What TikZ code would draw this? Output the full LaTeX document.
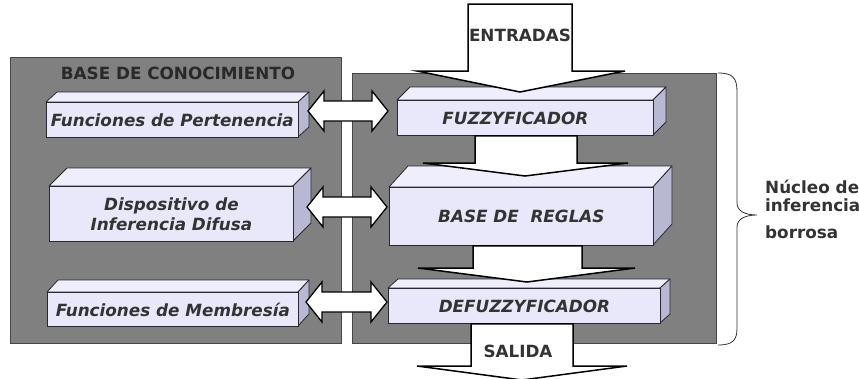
\documentclass[tikz,border=0pt]{standalone}
\usepackage{fontspec}
\newfontfamily\dejabold[BoldFont={DejaVu Sans Bold},BoldItalicFont={DejaVu Sans Bold Oblique}]{DejaVu Sans}
\definecolor{panelc}{RGB}{128,128,128}
\definecolor{panelline}{RGB}{70,70,70}
\definecolor{frontc}{RGB}{232,232,250}
\definecolor{topc}{RGB}{238,238,252}
\definecolor{sidec}{RGB}{184,184,210}
\definecolor{edgec}{RGB}{40,40,50}
\definecolor{txtc}{RGB}{51,51,51}
\tikzset{
  front/.style={draw=edgec, fill=frontc, line width=0.8pt, inner sep=0pt, anchor=north west,
    font=\dejabold\bfseries\itshape\fontsize{16.8}{20}\selectfont, text=txtc, align=center},
  topf/.style={draw=edgec, fill=topc, line width=0.8pt, line join=round},
  sidef/.style={draw=edgec, fill=sidec, line width=0.8pt, line join=round},
  bigarrow/.style={draw=black, fill=white, line width=1.5pt, line join=miter},
  dblarrow/.style={draw=black, fill=white, line width=1.3pt, line join=miter},
  panel/.style={fill=panelc, draw=panelline, line width=0.8pt},
  lbl/.style={font=\dejabold\bfseries\fontsize{16.8}{20}\selectfont, text=txtc, inner sep=0pt},
}
% name, x, y, w, h, dx, dy, text
\newcommand\mycube[8]{%
  \filldraw[topf] (#2,#3) -- ({#2+#6},{#3-#7}) -- ({#2+#4+#6},{#3-#7}) -- ({#2+#4},#3) -- cycle;
  \filldraw[sidef] ({#2+#4},#3) -- ({#2+#4+#6},{#3-#7}) -- ({#2+#4+#6},{#3+#5-#7}) -- ({#2+#4},{#3+#5}) -- cycle;
  \node[front, minimum width=#4pt, minimum height=#5pt] (#1) at (#2,#3) {#8};
}
% double arrow centred at y, from xl to xr
\newcommand\dblarr[3]{%
  \filldraw[dblarrow] (#2,#1) -- ({#2+16},{#1-20}) -- ({#2+16},{#1-10}) -- ({#3-16},{#1-10}) -- ({#3-16},{#1-20})
    -- (#3,#1) -- ({#3-16},{#1+20}) -- ({#3-16},{#1+10}) -- ({#2+16},{#1+10}) -- ({#2+16},{#1+20}) -- cycle;
}
\begin{document}
\begin{tikzpicture}[x=1pt,y=-1pt]
\useasboundingbox (0,0) rectangle (859,378);
\clip (0,0) rectangle (859,378);
% panels
\filldraw[panel] (10,57) rectangle (341,343);
\filldraw[panel] (352,73) rectangle (716,343);
\node[lbl, text=txtc!80!black] (kb) at (178,73) {BASE DE CONOCIMIENTO};
% left boxes
\mycube{fp}{46}{102}{252}{35}{11}{10}{Funciones de Pertenencia}
\mycube{di}{49}{186}{244}{55}{18}{18}{Dispositivo de\\Inferencia Difusa}
\mycube{fm}{47}{292}{251}{34}{11}{12}{Funciones de Membresía}
% right boxes
\mycube{fz}{397}{100}{256}{35}{13}{13}{FUZZYFICADOR\hspace*{20pt}}
\mycube{br}{389}{187}{264}{58}{19}{21}{BASE DE \ REGLAS}
\mycube{df}{388}{288}{272}{35}{10}{9}{DEFUZZYFICADOR}
% double arrows
\dblarr{111}{308}{388}
\dblarr{207}{307}{387}
\dblarr{302}{306}{387}
% vertical flow arrows
\filldraw[bigarrow] (468,4) -- (572,4) -- (572,71) -- (625,71) -- (520,92) -- (417,71) -- (468,71) -- cycle;
\node[lbl] (in) at (520,35) {ENTRADAS};
\filldraw[bigarrow] (fz.south -| 475,0) -- (fz.south -| 577,0) -- (577,163) -- (628,163) -- (525,176) -- (423,163) -- (475,163) -- cycle;
\filldraw[bigarrow] (br.south -| 473,0) -- (br.south -| 582,0) -- (582,268) -- (635,268) -- (527,282) -- (418,268) -- (473,268) -- cycle;
\filldraw[bigarrow] (df.south -| 471,0) -- (df.south -| 573,0) -- (573,366) -- (627,366) -- (522,380) -- (417,366) -- (471,366) -- cycle;
\node[lbl] (out) at (518,351) {SALIDA};
% brace
\coordinate (bt) at (718,73);
\coordinate (bb) at (718,345);
\coordinate (tip) at (757,215);
\draw[line width=0.8pt, draw=black!80] (bt) .. controls (733,73) and (737,78) .. (737,92) -- (737,203)
   .. controls (737,211) and (745,215) .. (tip) .. controls (745,215) and (737,219) .. (737,227)
   -- (737,328) .. controls (737,340) and (733,345) .. (bb);
\node[lbl, anchor=west] (n1) at (765,187) {Núcleo de};
\node[lbl, anchor=west] (n2) at (765,205) {inferencia};
\node[lbl, anchor=west] (n3) at (765,232) {borrosa};
\end{tikzpicture}
\end{document}
